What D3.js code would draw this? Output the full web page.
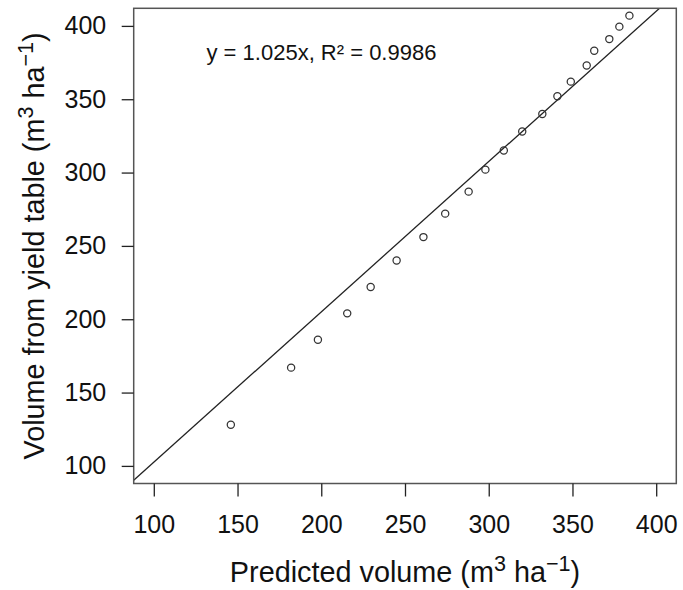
<!DOCTYPE html>
<html><head><meta charset="utf-8">
<script src="https://cdn.jsdelivr.net/npm/d3@7"></script>
<style>
body{margin:0;background:#fff}
text{font-family:"Liberation Sans",Arial,Helvetica,sans-serif;fill:#111}
</style>
</head><body>
<svg id="chart" width="683" height="590"></svg>
<script>
// ---- data ----
const predicted  = [146, 182, 198, 215.5, 229.5, 245, 261, 274, 288, 298, 309, 320, 332, 341, 349, 358.5, 363, 372, 378, 384];
const yieldTable = [128, 167, 186, 204, 222, 240, 256, 272, 287, 302, 315, 328, 340, 352, 362, 373, 383, 391, 399.5, 407];
const xTicks = [100, 150, 200, 250, 300, 350, 400];
const yTicks = [100, 150, 200, 250, 300, 350, 400];
const slope = 1.025;
const fitLabel = "y = 1.025x, R\u00B2 = 0.9986";

const svg = d3.select("#chart");
const L = 133.7, R = 676.3, T = 8.3, B = 483.5;
const x = d3.scaleLinear().domain([88, 412]).range([L, R]);
const y = d3.scaleLinear().domain([88, 412]).range([B, T]);

// clip
svg.append("defs").append("clipPath").attr("id","clip")
  .append("rect").attr("x",L).attr("y",T).attr("width",R-L).attr("height",B-T);

// fit line
const lineX = [88, 412];
svg.append("line").attr("clip-path","url(#clip)")
  .attr("x1", x(lineX[0])).attr("y1", y(slope*lineX[0]))
  .attr("x2", x(lineX[1])).attr("y2", y(slope*lineX[1]))
  .attr("stroke","#222").attr("stroke-width",1.3);

// points
svg.append("g").selectAll("circle").data(predicted).join("circle")
  .attr("cx", d => x(d)).attr("cy", (d,i) => y(yieldTable[i]))
  .attr("r", 3.6).attr("fill","none").attr("stroke","#333").attr("stroke-width",1.25);

// box
svg.append("rect").attr("x",L).attr("y",T).attr("width",R-L).attr("height",B-T)
  .attr("fill","none").attr("stroke","#555").attr("stroke-width",1.5);

// axes
const xa = svg.append("g").attr("transform",`translate(0,${B})`)
  .call(d3.axisBottom(x).tickValues(xTicks).tickSize(13).tickPadding(18.5).tickFormat(d3.format("d")));
const ya = svg.append("g").attr("transform",`translate(${L},0)`)
  .call(d3.axisLeft(y).tickValues(yTicks).tickSize(12).tickPadding(15.5).tickFormat(d3.format("d")));
[xa, ya].forEach(g => {
  g.select(".domain").remove();
  g.selectAll(".tick line").attr("stroke","#222").attr("stroke-width",1.3);
  g.selectAll(".tick text").attr("font-size",25).attr("fill","#111")
    .style("font-family",'"Liberation Sans",Arial,sans-serif');
});

// fit annotation
svg.append("text").attr("x",206.5).attr("y",60).attr("font-size",22).text(fitLabel);

// axis titles
function unitLabel(sel, main){
  sel.append("tspan").text(main + " (m");
  sel.append("tspan").attr("font-size","75%").attr("dy","-0.5em").text("3");
  sel.append("tspan").attr("dy","0.375em").text(" ha");
  sel.append("tspan").attr("font-size","75%").attr("dy","-0.5em").text("\u22121");
  sel.append("tspan").attr("dy","0.375em").text(")");
}
const xl = svg.append("text").attr("x",(L+R)/2).attr("y",581.5)
  .attr("text-anchor","middle").attr("font-size",28.8);
unitLabel(xl, "Predicted volume");
const yl = svg.append("text").attr("transform",`translate(44,${(T+B)/2}) rotate(-90)`)
  .attr("text-anchor","middle").attr("font-size",28.8);
unitLabel(yl, "Volume from yield table");
</script>
</body></html>
